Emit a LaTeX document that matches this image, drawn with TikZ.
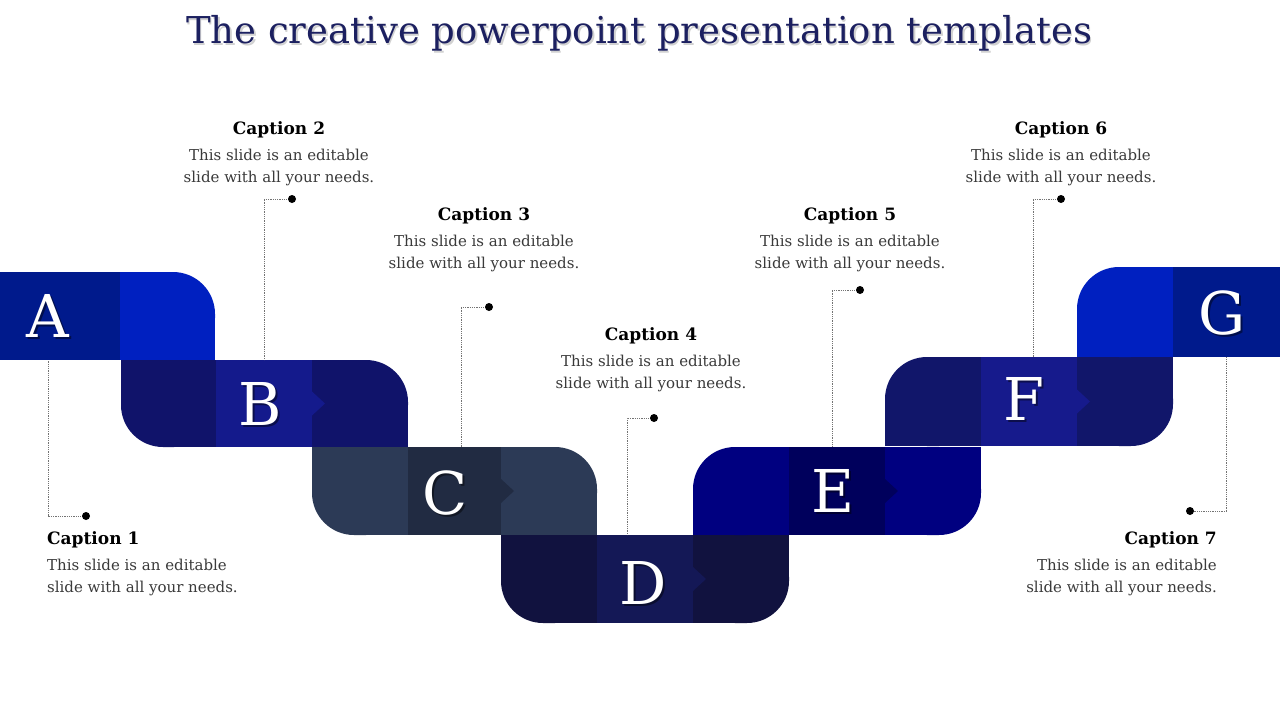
\documentclass[tikz,border=0pt]{standalone}
\usepackage{fontspec}
\setmainfont{DejaVu Serif}
\usetikzlibrary{calc}
\definecolor{aL}{HTML}{001A8C}
\definecolor{aR}{HTML}{0020C0}
\definecolor{bO}{HTML}{10136A}
\definecolor{bM}{HTML}{141A8C}
\definecolor{cO}{HTML}{2C3A56}
\definecolor{cM}{HTML}{212B42}
\definecolor{dO}{HTML}{11123F}
\definecolor{dM}{HTML}{141856}
\definecolor{eO}{HTML}{000080}
\definecolor{eM}{HTML}{00005C}
\definecolor{fO}{HTML}{11166A}
\definecolor{fM}{HTML}{161A8C}
\definecolor{titlec}{HTML}{1C2060}
\definecolor{bodyc}{HTML}{3A3A3A}
\newcommand\rr{42}
% sections: x1 y1 x2 y2 colour
\newcommand\secTR[5]{\fill[#5,rounded corners=\rr] (#1,#2) rectangle (#3,#4);
  \fill[#5] (#1,#2) rectangle ({#3-\rr},#4); \fill[#5] (#1,{#2+\rr}) rectangle (#3,#4);}
\newcommand\secBL[5]{\fill[#5,rounded corners=\rr] (#1,#2) rectangle (#3,#4);
  \fill[#5] ({#1+\rr},#2) rectangle (#3,#4); \fill[#5] (#1,#2) rectangle (#3,{#4-\rr});}
\newcommand\secTL[5]{\fill[#5,rounded corners=\rr] (#1,#2) rectangle (#3,#4);
  \fill[#5] ({#1+\rr},#2) rectangle (#3,#4); \fill[#5] (#1,{#2+\rr}) rectangle (#3,#4);}
\newcommand\secBR[5]{\fill[#5,rounded corners=\rr] (#1,#2) rectangle (#3,#4);
  \fill[#5] (#1,#2) rectangle ({#3-\rr},#4); \fill[#5] (#1,#2) rectangle (#3,{#4-\rr});}
\newcommand\secSQ[5]{\fill[#5] (#1,#2) rectangle (#3,#4);}
% notch: boundary x, mid y, colour
\newcommand\notch[3]{\fill[#3] (#1,{#2-12}) -- ({#1+13},#2) -- (#1,{#2+12}) -- cycle;}
\tikzset{
  letter/.style={text=white,font=\fontsize{59}{59}\selectfont,inner sep=0pt},
  lshadow/.style={text=black,opacity=0.45,font=\fontsize{59}{59}\selectfont,inner sep=0pt},
  caphead/.style={font=\bfseries\fontsize{17}{20}\selectfont,text=black,inner sep=0pt},
  capbody/.style={font=\fontsize{15}{22}\selectfont,text=bodyc,inner sep=0pt},
  conn/.style={draw=black!55,densely dotted,line width=0.8pt},
  dotc/.style={fill=black}
}
\begin{document}
\begin{tikzpicture}[x=1pt,y=-1pt]
\useasboundingbox (0,0) rectangle (1280,720);
\fill[white] (0,0) rectangle (1280,720);
% title
\node[text=black!18,font=\fontsize{37}{42}\selectfont,inner sep=0pt] (titleshadow) at (640.5,35.5) {The creative powerpoint presentation templates};
\node[text=titlec,font=\fontsize{37}{42}\selectfont,inner sep=0pt] (title) at (639,33) {The creative powerpoint presentation templates};
% row A
\secSQ{0}{272}{120}{360}{aL}
\secTR{120}{272}{215}{360}{aR}
% row B
\secBL{121}{360}{216}{447}{bO}
\secSQ{216}{360}{312}{447}{bM}
\secTR{312}{360}{408}{447}{bO}
\notch{312}{403.5}{bM}
% row C
\secBL{312}{447}{408}{535}{cO}
\secSQ{408}{447}{501}{535}{cM}
\secTR{501}{447}{597}{535}{cO}
\notch{501}{491}{cM}
% row D
\secBL{501}{535}{597}{623}{dO}
\secSQ{597}{535}{693}{623}{dM}
\secBR{693}{535}{789}{623}{dO}
\notch{693}{579}{dM}
% row E
\secTL{693}{447}{789}{535}{eO}
\secSQ{789}{447}{885}{535}{eM}
\secBR{885}{447}{981}{535}{eO}
\notch{885}{491}{eM}
% row F
\secTL{885}{357}{981}{446}{fO}
\secSQ{981}{357}{1077}{446}{fM}
\secBR{1077}{357}{1173}{446}{fO}
\notch{1077}{401.5}{fM}
% row G
\secTL{1077}{267}{1173}{357}{aR}
\secSQ{1173}{267}{1280}{357}{aL}
% letters
\foreach \n/\x/\y in {A/48/316,B/260/404,C/445/493,D/643/583,E/833/491,F/1024/399,G/1222/313}{
  \node[lshadow] (s\n) at (\x+2,\y+2) {\n};
  \node[letter] (L\n) at (\x,\y) {\n};
}
% connectors
\coordinate (d1) at (86,516);  \coordinate (t1) at (48,360);
\coordinate (d2) at (292,199); \coordinate (t2) at (264,360);
\coordinate (d3) at (489,307); \coordinate (t3) at (461,447);
\coordinate (d4) at (654,418); \coordinate (t4) at (627,535);
\coordinate (d5) at (860,290); \coordinate (t5) at (832,447);
\coordinate (d6) at (1061,199); \coordinate (t6) at (1033,357);
\coordinate (d7) at (1190,511); \coordinate (t7) at (1226,357);
\foreach \i in {1,...,7}{
  \draw[conn] (d\i) -| (t\i);
  \fill[dotc] (d\i) circle (4);
}
% captions
\node[caphead,anchor=west] (h1) at (47,540) {Caption 1};
\node[capbody,anchor=west,align=left] (b1) at (47,577) {This slide is an editable\\slide with all your needs.};
\node[caphead] (h2) at (279,130) {Caption 2};
\node[capbody,align=center] (b2) at (279,167) {This slide is an editable\\slide with all your needs.};
\node[caphead] (h3) at (484,216) {Caption 3};
\node[capbody,align=center] (b3) at (484,253) {This slide is an editable\\slide with all your needs.};
\node[caphead] (h4) at (651,336) {Caption 4};
\node[capbody,align=center] (b4) at (651,373) {This slide is an editable\\slide with all your needs.};
\node[caphead] (h5) at (850,216) {Caption 5};
\node[capbody,align=center] (b5) at (850,253) {This slide is an editable\\slide with all your needs.};
\node[caphead] (h6) at (1061,130) {Caption 6};
\node[capbody,align=center] (b6) at (1061,167) {This slide is an editable\\slide with all your needs.};
\node[caphead,anchor=east] (h7) at (1217,540) {Caption 7};
\node[capbody,anchor=east,align=right] (b7) at (1217,577) {This slide is an editable\\slide with all your needs.};
\end{tikzpicture}
\end{document}
